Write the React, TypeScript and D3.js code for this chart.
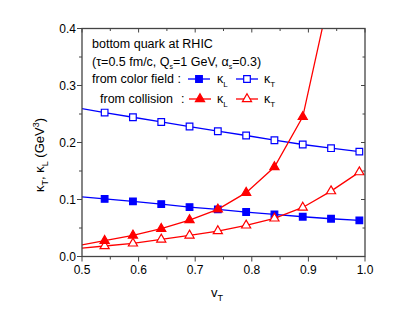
import React from "react";
import * as d3 from "d3";

// v_T grid; the first point sits just left of the frame and is clipped away
const vT = [0.49, 0.54, 0.59, 0.64, 0.69, 0.74, 0.79, 0.84, 0.89, 0.94, 0.99];
const kappaLField = [0.1055, 0.101, 0.0967, 0.092, 0.0867, 0.0827, 0.078, 0.0738, 0.0697, 0.0662, 0.0634];
const kappaTField = [0.261, 0.2525, 0.2443, 0.236, 0.228, 0.2198, 0.2123, 0.204, 0.1965, 0.19, 0.184];
const kappaLColl = [0.0185, 0.0277, 0.037, 0.0487, 0.064, 0.0827, 0.112, 0.157, 0.245, 0.47, 0.9];
const kappaTColl = [0.0138, 0.0184, 0.023, 0.03, 0.037, 0.0447, 0.0546, 0.0669, 0.086, 0.1147, 0.148];

const xTicks = [0.5, 0.6, 0.7, 0.8, 0.9, 1.0];
const yTicks = [0.0, 0.1, 0.2, 0.3, 0.4];
const xMinor = [0.55, 0.65, 0.75, 0.85, 0.95];
const yMinor = [0.05, 0.15, 0.25, 0.35];

const W = 415, H = 318;
const L = 82, R = 365, T = 28.5, B = 256.5;
const BLUE = "#0000ff", RED = "#ff0000", AXIS = "#444";
const FONT = "'Liberation Sans', Arial, sans-serif";

const x = d3.scaleLinear().domain([0.5, 1.0]).range([L, R]);
const y = d3.scaleLinear().domain([0, 0.4]).range([B, T]);

const line = d3
  .line<number>()
  .x((d, i) => x(vT[i]))
  .y((d) => y(d));

const sq = d3.symbol().type(d3.symbolSquare).size(44)();
const tri = d3.symbol().type(d3.symbolTriangle).size(36)();

type Series = { vals: number[]; color: string; sym: string; filled: boolean };
const series: Series[] = [
  { vals: kappaTField, color: BLUE, sym: sq, filled: false },
  { vals: kappaLField, color: BLUE, sym: sq, filled: true },
  { vals: kappaTColl, color: RED, sym: tri, filled: false },
  { vals: kappaLColl, color: RED, sym: tri, filled: true },
];

function Marker({ cx, cy, s }: { cx: number; cy: number; s: Series }) {
  return (
    <path
      d={s.sym}
      transform={`translate(${cx},${cy})`}
      fill={s.filled ? s.color : "#fff"}
      stroke={s.color}
      strokeWidth={1.2}
    />
  );
}

function LegendKey({ x0, cy, s }: { x0: number; cy: number; s: Series }) {
  return (
    <g>
      <line x1={x0} x2={x0 + 22} y1={cy} y2={cy} stroke={s.color} strokeWidth={1.3} />
      <Marker cx={x0 + 11} cy={cy} s={s} />
    </g>
  );
}

function Kappa({ x0, y0, sub }: { x0: number; y0: number; sub: string }) {
  return (
    <text x={x0} y={y0} fontSize={12.5}>
      κ
      <tspan fontSize={8} dy={4}>{sub}</tspan>
    </text>
  );
}

export default function App() {
  const fmt = d3.format(".1f");
  return (
    <svg
      width={W}
      height={H}
      style={{ position: "absolute", left: 0, top: 0, background: "#fff" }}
      fontFamily={FONT}
    >
      <defs>
        <clipPath id="plot">
          <rect x={L} y={T} width={R - L} height={B - T} />
        </clipPath>
      </defs>

      <g clipPath="url(#plot)">
        {series.map((s, k) => (
          <g key={k}>
            <path d={line(s.vals) || ""} fill="none" stroke={s.color} strokeWidth={1.3} />
            {s.vals.map((v, i) => (
              <Marker key={i} cx={x(vT[i])} cy={y(v)} s={s} />
            ))}
          </g>
        ))}
      </g>

      {/* frame */}
      <rect x={L} y={T} width={R - L} height={B - T} fill="none" stroke={AXIS} strokeWidth={1.3} />

      {/* bottom / top ticks */}
      {xTicks.map((t) => (
        <g key={"x" + t}>
          <line x1={x(t)} x2={x(t)} y1={B} y2={B + 5} stroke={AXIS} />
          <line x1={x(t)} x2={x(t)} y1={T} y2={T + 4} stroke={AXIS} />
          <text x={x(t)} y={B + 17} fontSize={12} textAnchor="middle">
            {fmt(t)}
          </text>
        </g>
      ))}
      {xMinor.map((t) => (
        <g key={"xm" + t}>
          <line x1={x(t)} x2={x(t)} y1={B} y2={B + 3} stroke={AXIS} />
          <line x1={x(t)} x2={x(t)} y1={T} y2={T + 2.5} stroke={AXIS} />
        </g>
      ))}

      {/* left / right ticks */}
      {yTicks.map((t) => (
        <g key={"y" + t}>
          <line x1={L - 5} x2={L} y1={y(t)} y2={y(t)} stroke={AXIS} />
          <line x1={R - 4} x2={R} y1={y(t)} y2={y(t)} stroke={AXIS} />
          <text x={L - 6} y={y(t) + 4} fontSize={12} textAnchor="end">
            {fmt(t)}
          </text>
        </g>
      ))}
      {yMinor.map((t) => (
        <g key={"ym" + t}>
          <line x1={L - 3} x2={L} y1={y(t)} y2={y(t)} stroke={AXIS} />
          <line x1={R - 2.5} x2={R} y1={y(t)} y2={y(t)} stroke={AXIS} />
        </g>
      ))}

      {/* axis titles */}
      <text x={217} y={297} fontSize={13} textAnchor="middle">
        v<tspan fontSize={9} dy={4}>T</tspan>
      </text>
      <text transform="translate(44,155) rotate(-90)" fontSize={13} textAnchor="middle">
        κ<tspan fontSize={9} dy={4}>T</tspan>
        <tspan dy={-4}>, κ</tspan>
        <tspan fontSize={9} dy={4}>L</tspan>
        <tspan dy={-4}> (GeV</tspan>
        <tspan fontSize={9} dy={-5}>3</tspan>
        <tspan dy={5}>)</tspan>
      </text>

      {/* legend */}
      <text x={92} y={48} fontSize={12.5}>bottom quark at RHIC</text>
      <text x={92} y={66} fontSize={12.5}>
        (τ=0.5 fm/c, Q<tspan fontSize={7} dy={3}>s</tspan>
        <tspan dy={-3}>=1 GeV, α</tspan>
        <tspan fontSize={7} dy={3}>s</tspan>
        <tspan dy={-3}>=0.3)</tspan>
      </text>
      <text x={92} y={83} fontSize={12.5}>from color field :</text>
      <LegendKey x0={188} cy={79} s={series[1]} />
      <Kappa x0={217} y0={83} sub="L" />
      <LegendKey x0={236} cy={79} s={series[0]} />
      <Kappa x0={264} y0={83} sub="T" />

      <text x={100} y={103} fontSize={12.5}>from collision</text>
      <text x={181} y={103} fontSize={12.5}>:</text>
      <LegendKey x0={189} cy={99} s={series[3]} />
      <Kappa x0={217} y0={103} sub="L" />
      <LegendKey x0={236} cy={99} s={series[2]} />
      <Kappa x0={264} y0={103} sub="T" />
    </svg>
  );
}
